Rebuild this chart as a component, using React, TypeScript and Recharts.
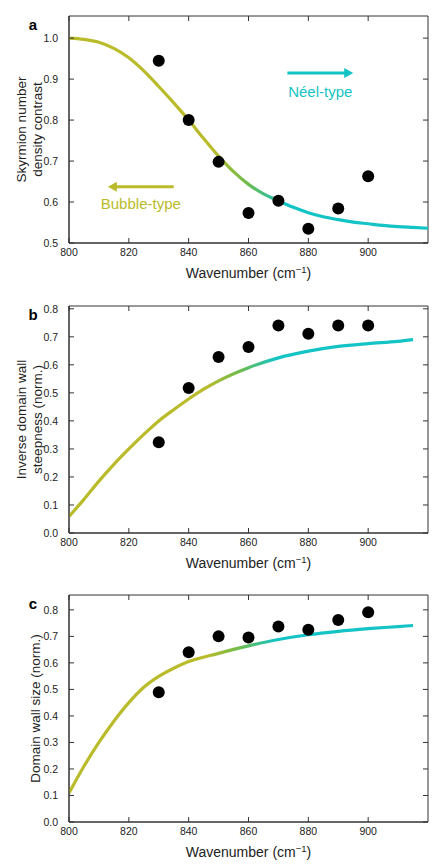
import { ComposedChart, Line, Scatter, XAxis, YAxis, ReferenceLine, ReferenceArea, Label } from "recharts";

// measured wavenumbers (cm^-1)
const measuredX = [830, 840, 850, 860, 870, 880, 890, 900];

// panel a: skyrmion number density contrast
const densityPoints = [0.945, 0.8, 0.698, 0.573, 0.603, 0.535, 0.584, 0.663];
const densityFitX = [800, 805, 810, 815, 820, 825, 830, 835, 840, 845, 850, 855, 860, 865, 870, 875, 880, 885, 890, 895, 900, 905, 910, 915, 920];
const densityFitY = [1.0, 0.997, 0.99, 0.975, 0.952, 0.92, 0.882, 0.842, 0.8, 0.755, 0.712, 0.674, 0.643, 0.62, 0.603, 0.587, 0.574, 0.564, 0.557, 0.551, 0.547, 0.543, 0.54, 0.538, 0.536];

// panel b: inverse domain wall steepness
const steepPoints = [0.324, 0.517, 0.628, 0.664, 0.74, 0.711, 0.74, 0.74];
const steepFitX = [800, 805, 810, 815, 820, 825, 830, 835, 840, 845, 850, 860, 870, 880, 890, 900, 910, 915];
const steepFitY = [0.059, 0.12, 0.185, 0.245, 0.3, 0.352, 0.4, 0.44, 0.478, 0.513, 0.543, 0.59, 0.625, 0.649, 0.666, 0.676, 0.684, 0.69];

// panel c: domain wall size
const sizePoints = [0.489, 0.64, 0.7, 0.696, 0.737, 0.725, 0.762, 0.791];
const sizeFitX = [800, 805, 810, 815, 820, 825, 830, 835, 840, 850, 860, 870, 880, 890, 900, 910, 915];
const sizeFitY = [0.109, 0.21, 0.3, 0.38, 0.45, 0.508, 0.549, 0.58, 0.605, 0.636, 0.664, 0.688, 0.706, 0.719, 0.729, 0.737, 0.741];

const xTicks = [800, 820, 840, 860, 880, 900];
const yTicksA = [0.5, 0.6, 0.7, 0.8, 0.9, 1.0];
const yTicksBC = [0, 0.1, 0.2, 0.3, 0.4, 0.5, 0.6, 0.7, 0.8];

const OLIVE = "#b9bb2b";
const CYAN = "#14c3c6";
const FONT = "Liberation Sans, Arial, sans-serif";
const INK = "#333";

// plot box inside each 448x290 panel
const PLOT_TOP = 16;
const PLOT_RIGHT = 428;

const toRows = (xs: number[], ys: number[]) => xs.map((x, i) => ({ x, y: ys[i] }));

const Dot = (p: any) => <circle cx={p.cx} cy={p.cy} r={6} fill="#000" />;

// inward ticks on bottom + mirrored on top
const BottomTick = (p: any) => (
    <g>
        <line x1={p.x} y1={p.y} x2={p.x} y2={p.y - 5} stroke={INK} />
        <line x1={p.x} y1={PLOT_TOP} x2={p.x} y2={PLOT_TOP + 5} stroke={INK} />
        <text x={p.x} y={p.y + 13} textAnchor="middle" fontSize={10.5} fill="#222" fontFamily={FONT}>
            {p.payload.value}
        </text>
    </g>
);

// inward ticks on left + mirrored on right
const LeftTick = (p: any) => (
    <g>
        <line x1={p.x} y1={p.y} x2={p.x + 5} y2={p.y} stroke={INK} />
        <line x1={PLOT_RIGHT} y1={p.y} x2={PLOT_RIGHT - 5} y2={p.y} stroke={INK} />
        <text x={p.x - 11} y={p.y + 4} textAnchor="end" fontSize={10.5} fill="#222" fontFamily={FONT}>
            {Number(p.payload.value).toFixed(1)}
        </text>
    </g>
);

const XTitle = (props: any) => {
    const vb = props.viewBox;
    return (
        <text x={vb.x + vb.width / 2} y={vb.y + 35} textAnchor="middle" fontSize={14} fill="#222" fontFamily={FONT}>
            <tspan>Wavenumber (cm</tspan>
            <tspan dy={-5} fontSize={9.5}>−1</tspan>
            <tspan dy={5}>)</tspan>
        </text>
    );
};

const Arrow = (dir: "left" | "right", color: string) => (props: any) => {
    const { x1, y1, x2, y2 } = props;
    const tip = dir === "right" ? Math.max(x1, x2) : Math.min(x1, x2);
    const tail = dir === "right" ? Math.min(x1, x2) : Math.max(x1, x2);
    const s = dir === "right" ? 1 : -1;
    return (
        <g>
            <line x1={tail} y1={y1} x2={tip - s * 6} y2={y2} stroke={color} strokeWidth={3} />
            <polygon points={`${tip},${y1} ${tip - s * 9},${y1 - 5} ${tip - s * 9},${y1 + 5}`} fill={color} />
        </g>
    );
};

type PanelProps = {
    letter: string;
    yTitle: string[];
    yDomain: [number, number];
    yTicks: number[];
    fit: { x: number; y: number }[];
    points: { x: number; y: number }[];
    gradId: string;
    extra?: React.ReactNode;
};

const Panel = ({ letter, yTitle, yDomain, yTicks, fit, points, gradId, extra }: PanelProps) => {
    const YTitle = (props: any) => {
        const vb = props.viewBox;
        const cy = vb.y + vb.height / 2;
        const xs = yTitle.length === 2 ? [21, 37] : [35];
        return (
            <g>
                {yTitle.map((t, i) => (
                    <text key={i} x={xs[i]} y={cy} transform={`rotate(-90 ${xs[i]} ${cy})`} textAnchor="middle" dominantBaseline="central" fontSize={13.5} fill="#222" fontFamily={FONT}>
                        {t}
                    </text>
                ))}
                <text x={33} y={30} textAnchor="middle" fontSize={15} fontWeight="bold" fill="#000" fontFamily={FONT}>{letter}</text>
            </g>
        );
    };
    return (
        <ComposedChart width={448} height={290} margin={{ top: PLOT_TOP, right: 448 - PLOT_RIGHT, left: 0, bottom: 0 }}>
            <defs>
                <linearGradient id={gradId} x1="0" y1="0" x2="1" y2="0">
                    <stop offset="0%" stopColor={OLIVE} />
                    <stop offset="40%" stopColor={OLIVE} />
                    <stop offset="50%" stopColor="#6cbc4e" />
                    <stop offset="60%" stopColor={CYAN} />
                    <stop offset="100%" stopColor={CYAN} />
                </linearGradient>
            </defs>
            <XAxis dataKey="x" type="number" domain={[800, 920]} ticks={xTicks} height={47}
                tickSize={0} tickMargin={0} tickLine={false} tick={BottomTick} stroke={INK} allowDataOverflow>
                <Label content={XTitle} />
            </XAxis>
            <YAxis type="number" domain={yDomain} ticks={yTicks} width={69} tickSize={0} tickMargin={0}
                tickLine={false} tick={LeftTick} stroke={INK} allowDataOverflow>
                <Label content={YTitle} />
            </YAxis>
            <ReferenceArea x1={800} x2={920} y1={yDomain[0]} y2={yDomain[1]} fill="none" fillOpacity={0} stroke={INK} strokeWidth={1} ifOverflow="extendDomain" />
            <Line data={fit} dataKey="y" type="monotone" stroke={`url(#${gradId})`}
                strokeWidth={3.2} dot={false} isAnimationActive={false} />
            <Scatter data={points} dataKey="y" shape={Dot} isAnimationActive={false} />
            {extra}
        </ComposedChart>
    );
};

export default function App() {
    return (
        <div style={{ position: "absolute", left: 0, top: 0, width: 448, height: 866, background: "#fff" }}>
            <Panel
                letter="a"
                yTitle={["Skyrmion number", "density contrast"]}
                yDomain={[0.5, 1.054]}
                yTicks={yTicksA}
                fit={toRows(densityFitX, densityFitY)}
                points={toRows(measuredX, densityPoints)}
                gradId="gradA"
                extra={[
                    <ReferenceLine key="n" segment={[{ x: 873, y: 0.915 }, { x: 895, y: 0.915 }]} shape={Arrow("right", CYAN)} />,
                    <ReferenceLine key="bb" segment={[{ x: 813, y: 0.637 }, { x: 835, y: 0.637 }]} shape={Arrow("left", OLIVE)} />,
                    <ReferenceLine key="nt" segment={[{ x: 884, y: 0.87 }, { x: 884, y: 0.87 }]} stroke="none">
                        <Label value="Néel-type" position="center" fill={CYAN} fontSize={15} fontFamily={FONT} />
                    </ReferenceLine>,
                    <ReferenceLine key="bt" segment={[{ x: 824, y: 0.596 }, { x: 824, y: 0.596 }]} stroke="none">
                        <Label value="Bubble-type" position="center" fill={OLIVE} fontSize={15} fontFamily={FONT} />
                    </ReferenceLine>,
                ]}
            />
            <div style={{ position: "absolute", left: 0, top: 290 }}>
                <Panel
                    letter="b"
                    yTitle={["Inverse domain wall", "steepness (norm.)"]}
                    yDomain={[0, 0.81]}
                    yTicks={yTicksBC}
                    fit={toRows(steepFitX, steepFitY)}
                    points={toRows(measuredX, steepPoints)}
                    gradId="gradB"
                />
            </div>
            <div style={{ position: "absolute", left: 0, top: 579 }}>
                <Panel
                    letter="c"
                    yTitle={["Domain wall size (norm.)"]}
                    yDomain={[0, 0.856]}
                    yTicks={yTicksBC}
                    fit={toRows(sizeFitX, sizeFitY)}
                    points={toRows(measuredX, sizePoints)}
                    gradId="gradC"
                />
            </div>
        </div>
    );
}
